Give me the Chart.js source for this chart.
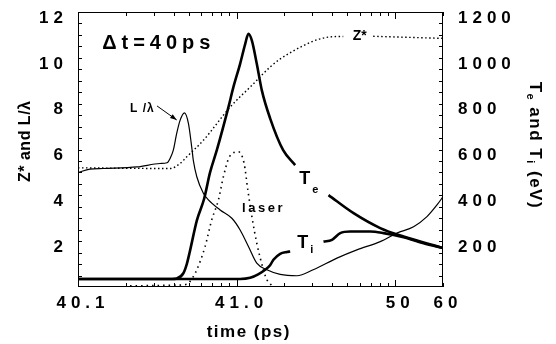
<!DOCTYPE html>
<html>
<head>
<meta charset="utf-8">
<script src="https://cdn.jsdelivr.net/npm/chart.js@4"></script>
<style>
  body { margin: 0; background: #fff; }
  canvas { display: block; }
</style>
</head>
<body>
<canvas id="chart" width="556" height="344"></canvas>
<script>
// Time axis is logarithmic in (t - 40 ps)
const T0 = 40;

const timeTickValues = [40.1, 41.0, 50, 60];
const timeTickLabels = ['40.1', '41.0', '50', '60'];
const leftTicks = [2, 4, 6, 8, 10, 12];
const rightTicks = [200, 400, 600, 800, 1000, 1200];

// L/lambda (left axis)
const tLoverL = [40.1, 40.119, 40.144, 40.236, 40.329, 40.364, 40.38, 40.399, 40.419, 40.44, 40.469, 40.497,
    40.521, 40.534, 40.561, 40.617, 40.664, 40.787, 40.933, 41.052, 41.187, 41.34, 41.551, 41.881, 42.398,
    43.04, 44.29, 45.73, 48.04, 50.25, 53.05, 55.85, 58.33, 60];
const LoverL = [5.0, 5.14, 5.17, 5.24, 5.39, 5.42, 5.6, 5.97, 6.7, 7.27, 7.6, 7.13,
    6.11, 5.5, 4.81, 4.09, 3.8, 3.36, 3.0, 2.49, 1.77, 1.04, 0.75, 0.55, 0.49,
    0.75, 1.26, 1.62, 1.98, 2.35, 2.63, 3.07, 3.58, 3.94];

// Z* (left axis), gap where the label sits
const tZstar = [40.1, 40.38, 40.44, 40.485, 40.617, 40.91, 41.248, 41.626, 41.881, 42.176, 42.628, 43.365,
    44.31, 44.7, 45.84, 47.26, 51.28, 60];
const zStar = [5.2, 5.17, 5.39, 5.68, 6.4, 7.85, 8.8, 9.6, 9.95, 10.22, 10.53, 10.83,
    10.93, 10.93, null, 10.94, 10.9, 10.85];

// laser pulse (left axis, arb. units)
const tLaser = [40.213, 40.409, 40.485, 40.521, 40.561, 40.633, 40.697, 40.768, 40.825, 40.901, 41.026,
    41.115, 41.177, 41.248, 41.34, 41.476, 41.551, 41.675];
const laser = [0.05, 0.08, 0.12, 0.35, 0.75, 1.77, 2.93, 3.8, 4.81, 5.68, 5.9,
    5.39, 4.23, 3.07, 1.91, 0.75, 0.32, 0.05];

// Te in eV (right axis)
const tTe = [40.1, 40.392, 40.419, 40.4615, 40.485, 40.509, 40.561, 40.624, 40.68, 40.75, 40.888, 40.954,
    41.052, 41.132, 41.187, 41.248, 41.34, 41.442, 41.626, 41.965, 42.339, 42.909, 43.795, 45.46, 48.04,
    51.28, 60];
const Te = [35, 35, 37, 60, 100, 160, 290, 385, 500, 597, 785, 872,
    974, 1060, 1105, 1075, 974, 858, 736, 597, 532, null, 401, 322, 257,
    220, 170];

// Ti in eV (right axis)
const tTi = [40.1, 41.052, 41.217, 41.367, 41.513, 41.626, 41.706, 41.881, 42.074, 42.176, 42.705,
    43.53, 43.99, 44.5, 45.2, 46.95, 48.44, 51.28, 55.09, 60];
const Ti = [35, 35, 40, 55, 75, 95, 119, 145, 153, 155, null,
    198, 206, 235, 242, 242, 235, 217, 191, 170];

const FONT = "'Liberation Sans', Arial, sans-serif";

function toPoints(times, values) {
    return times.map((t, i) => ({ x: t - T0, y: values[i] }));
}

function line(data, axis, width, dash) {
    return {
        data: data,
        yAxisID: axis,
        borderColor: '#000',
        borderWidth: width,
        borderDash: dash || [],
        pointRadius: 0,
        fill: false,
        spanGaps: false,
        cubicInterpolationMode: 'monotone'
    };
}

function text(ctx, str, px, py, size, spacing, align, baseline) {
    ctx.font = 'bold ' + size + 'px ' + FONT;
    ctx.letterSpacing = spacing + 'px';
    ctx.textAlign = align || 'left';
    ctx.textBaseline = baseline || 'alphabetic';
    ctx.fillText(str, px, py);
    return ctx.measureText(str).width;
}

// no extra room for the outer tick labels, the plot box is fixed
function fixPadding(scale) {
    scale.paddingTop = 0;
    scale.paddingBottom = 0;
    scale.paddingLeft = 0;
    scale.paddingRight = 0;
}

const decorations = {
    id: 'decorations',
    beforeDraw(chart) {
        chart.ctx.letterSpacing = '5px';
    },
    afterDraw(chart) {
        const { ctx, chartArea: a, scales } = chart;
        const sx = v => scales.x.getPixelForValue(v - T0);
        const sy = v => scales.y.getPixelForValue(v);

        ctx.save();
        ctx.strokeStyle = '#000';
        ctx.fillStyle = '#000';
        ctx.lineWidth = 1;
        ctx.strokeRect(a.left + 0.5, a.top + 0.5, a.right - a.left - 1, a.bottom - a.top - 1);

        // inward tick marks
        ctx.beginPath();
        for (let v = 0.5; v < 12; v += 0.5) {
            let py = Math.round(sy(v)) + 0.5;
            ctx.moveTo(a.left, py); ctx.lineTo(a.left + 4, py);
            py = Math.round(scales.y1.getPixelForValue(v * 100)) + 0.5;
            ctx.moveTo(a.right, py); ctx.lineTo(a.right - 4, py);
        }
        [0.1, 1, 10].forEach(dec => {
            for (let k = 1; k < 10; k++) {
                const v = dec * k;
                if (v <= 0.1 || v > 20) continue;
                const px = Math.round(scales.x.getPixelForValue(v)) + 0.5;
                const len = k == 1 ? 7 : 4;
                ctx.moveTo(px, a.bottom); ctx.lineTo(px, a.bottom - len);
                ctx.moveTo(px, a.top); ctx.lineTo(px, a.top + len);
            }
        });
        ctx.stroke();

        // annotations
        text(ctx, '\u0394t=40ps', sx(40.142), sy(10.4), 20, 5);
        text(ctx, 'L /\u03bb', sx(40.213), sy(7.64), 12, 1);
        ctx.beginPath();
        const ax0 = sx(40.315), ay0 = sy(7.9), ax1 = sx(40.419), ay1 = sy(7.29);
        ctx.moveTo(ax0, ay0); ctx.lineTo(ax1, ay1);
        ctx.stroke();
        const ang = Math.atan2(ay1 - ay0, ax1 - ax0);
        ctx.beginPath();
        ctx.moveTo(ax1, ay1);
        ctx.lineTo(ax1 - 7 * Math.cos(ang - 0.35), ay1 - 7 * Math.sin(ang - 0.35));
        ctx.lineTo(ax1 - 7 * Math.cos(ang + 0.35), ay1 - 7 * Math.sin(ang + 0.35));
        ctx.closePath();
        ctx.fill();

        text(ctx, 'Z*', sx(45.97), sy(10.96), 14, 0, 'center', 'middle');
        text(ctx, 'laser', sx(41.083), sy(3.45), 13, 2.5, 'left', 'middle');

        let w = text(ctx, 'T', sx(42.48), sy(4.73), 18, 0, 'left', 'middle');
        text(ctx, 'e', sx(42.48) + w + 2, sy(4.73) + 11, 11, 0, 'left', 'middle');
        w = text(ctx, 'T', sx(42.41), sy(1.9), 18, 0, 'left', 'middle');
        text(ctx, 'i', sx(42.41) + w + 2, sy(1.9) + 7, 11, 0, 'left', 'middle');

        // axis titles
        text(ctx, 'time (ps)', a.left + (a.right - a.left) * 0.468, 332, 17, 1.5, 'center', 'middle');

        ctx.save();
        ctx.translate(26, a.top + (a.bottom - a.top) * 0.47);
        ctx.rotate(-Math.PI / 2);
        text(ctx, 'Z* and L/\u03bb', 0, 0, 16, 0.5, 'center', 'middle');
        ctx.restore();

        ctx.save();
        ctx.translate(535, a.top + (a.bottom - a.top) * 0.485);
        ctx.rotate(Math.PI / 2);
        const parts = [['T', 17, 0], ['e', 11, 5], [' and ', 17, 0], ['T', 17, 0], ['i', 11, 5], [' (eV)', 17, 0]];
        let total = 0;
        parts.forEach(p => {
            ctx.font = 'bold ' + p[1] + 'px ' + FONT;
            ctx.letterSpacing = '1.5px';
            total += ctx.measureText(p[0]).width;
        });
        let cx = -total / 2;
        parts.forEach(p => {
            cx += text(ctx, p[0], cx, p[2], p[1], 1.5, 'left', 'middle');
        });
        ctx.restore();

        ctx.restore();
    }
};

const tickFont = { family: FONT, size: 17, weight: 'bold' };

new Chart(document.getElementById('chart'), {
    type: 'line',
    data: {
        datasets: [
            line(toPoints(tLoverL, LoverL), 'y', 1.2),
            line(toPoints(tZstar, zStar), 'y', 1.4, [1.5, 2.5]),
            line(toPoints(tLaser, laser), 'y', 1.6, [1.5, 4]),
            line(toPoints(tTe, Te), 'y1', 2.6),
            line(toPoints(tTi, Ti), 'y1', 2.6)
        ]
    },
    options: {
        responsive: false,
        animation: false,
        layout: { padding: { top: 12, left: 0, right: 0, bottom: 0 } },
        plugins: {
            legend: { display: false },
            tooltip: { enabled: false }
        },
        scales: {
            x: {
                type: 'logarithmic',
                min: 0.1,
                max: 20,
                afterBuildTicks: scale => {
                    scale.ticks = timeTickValues.map(v => ({ value: v - T0 }));
                },
                afterFit: scale => { fixPadding(scale); scale.height = 57; },
                grid: { display: false, drawTicks: false },
                border: { display: false },
                ticks: {
                    autoSkip: false,
                    maxRotation: 0,
                    padding: 6,
                    labelOffset: 5,
                    color: '#000',
                    font: tickFont,
                    callback: (v, i) => timeTickLabels[i]
                }
            },
            y: {
                position: 'left',
                min: 0,
                max: 12,
                afterBuildTicks: scale => {
                    scale.ticks = leftTicks.map(v => ({ value: v }));
                },
                afterFit: scale => { fixPadding(scale); scale.width = 78; },
                grid: { display: false, drawTicks: false },
                border: { display: false },
                ticks: { padding: 10, labelOffset: 6, color: '#000', font: tickFont, callback: v => String(v) }
            },
            y1: {
                position: 'right',
                min: 0,
                max: 1200,
                afterBuildTicks: scale => {
                    scale.ticks = rightTicks.map(v => ({ value: v }));
                },
                afterFit: scale => { fixPadding(scale); scale.width = 113; },
                grid: { display: false, drawTicks: false },
                border: { display: false },
                ticks: { padding: 15, labelOffset: 6, color: '#000', font: tickFont, callback: v => String(v) }
            }
        }
    },
    plugins: [decorations]
});
</script>
</body>
</html>
